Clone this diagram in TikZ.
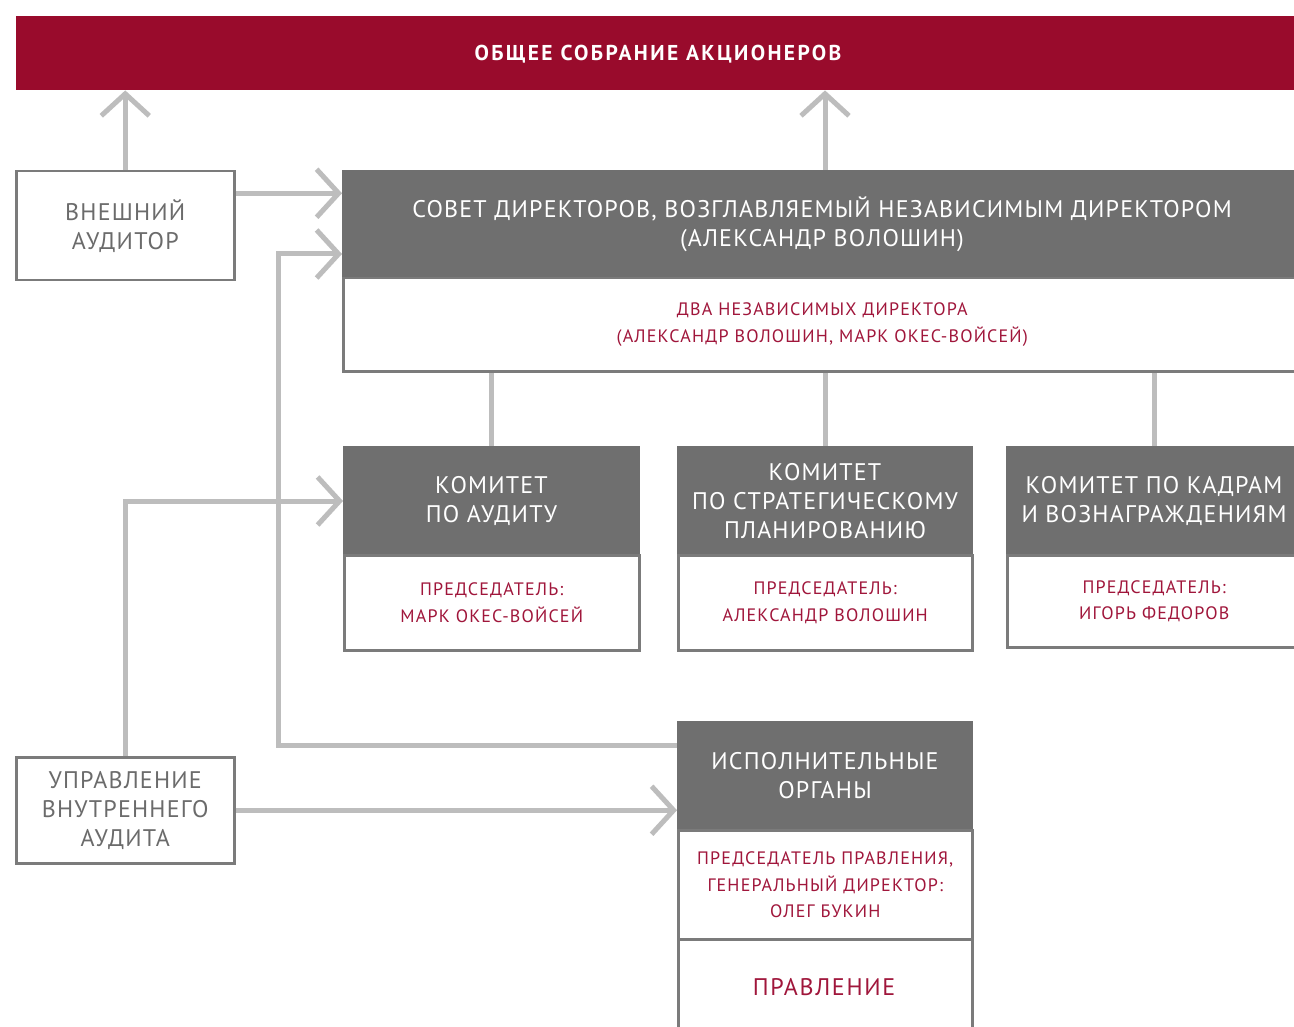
\documentclass[tikz,border=0pt]{standalone}
\usepackage{fontspec}
\setmainfont{PT Sans}[LetterSpace=5]
\usetikzlibrary{arrows.meta}
\definecolor{bannerred}{HTML}{990B2C}
\definecolor{headgray}{HTML}{6F6F6F}
\definecolor{bordergray}{HTML}{7B7B7B}
\definecolor{linegray}{HTML}{BDBDBD}
\definecolor{redtext}{HTML}{A0163B}
\definecolor{graytext}{HTML}{6B6B6B}
\begin{document}
\begin{tikzpicture}[x=1pt,y=-1pt,
  head/.style={draw=headgray, fill=headgray, line width=2pt, text=white, inner sep=0pt,
    anchor=north west, align=center, font=\fontsize{24}{29}\selectfont},
  body/.style={draw=bordergray, fill=white, line width=2.5pt, text=redtext, inner sep=0pt,
    anchor=north west, align=center, font=\fontsize{18}{26.5}\selectfont\addfontfeature{LetterSpace=6.5}},
  side/.style={draw=bordergray, fill=white, line width=2.5pt, text=graytext, inner sep=0pt,
    anchor=north west, align=center, font=\fontsize{24}{29}\selectfont},
  conn/.style={draw=linegray, line width=5pt},
  arr/.style={conn, -{Straight Barb[sharp, length=22pt, width=48pt]}}]
\useasboundingbox (0,0) rectangle (1294,1027);
\clip (0,0) rectangle (1294,1027);
\fill[white] (0,0) rectangle (1294,1027);

% banner
\node[fill=bannerred, inner sep=0pt, anchor=north west, minimum width=1300pt,
  minimum height=74pt] (gm) at (16,16) {};
\node[text=white, font=\fontsize{21.5}{26}\selectfont\bfseries\addfontfeature{LetterSpace=11}] (gmt) at (658,54.5) {ОБЩЕЕ СОБРАНИЕ АКЦИОНЕРОВ};

% external auditor
\node[side, minimum width=218pt, minimum height=109pt] (ea) at (15,170) {ВНЕШНИЙ\\АУДИТОР};

% board
\node[head, minimum width=958pt, minimum height=107pt] (bh) at (342,170)
  {СОВЕТ ДИРЕКТОРОВ, ВОЗГЛАВЛЯЕМЫЙ НЕЗАВИСИМЫМ ДИРЕКТОРОМ\\(АЛЕКСАНДР ВОЛОШИН)};
\node[body, minimum width=958pt, minimum height=93pt] (bb) at (342,277)
  {ДВА НЕЗАВИСИМЫХ ДИРЕКТОРА\\(АЛЕКСАНДР ВОЛОШИН, МАРК ОКЕС-ВОЙСЕЙ)};

% committees
\node[head, minimum width=295pt, minimum height=108pt] (c1h) at (343,446) {КОМИТЕТ\\ПО АУДИТУ};
\node[body, minimum width=295pt, minimum height=95pt] (c1b) at (343,554) {ПРЕДСЕДАТЕЛЬ:\\МАРК ОКЕС-ВОЙСЕЙ};

\node[head, minimum width=294pt, minimum height=108pt] (c2h) at (677,446) {КОМИТЕТ\\ПО СТРАТЕГИЧЕСКОМУ\\ПЛАНИРОВАНИЮ};
\node[body, minimum width=294pt, minimum height=95pt] (c2b) at (677,554) {ПРЕДСЕДАТЕЛЬ:\\АЛЕКСАНДР ВОЛОШИН};

\node[head, minimum width=294pt, minimum height=108pt] (c3h) at (1006,446) {КОМИТЕТ ПО КАДРАМ\\И ВОЗНАГРАЖДЕНИЯМ};
\node[body, minimum width=294pt, minimum height=92pt] (c3b) at (1006,554) {ПРЕДСЕДАТЕЛЬ:\\ИГОРЬ ФЕДОРОВ};

% internal audit
\node[side, minimum width=218pt, minimum height=106pt] (ia) at (15,756) {УПРАВЛЕНИЕ\\ВНУТРЕННЕГО\\АУДИТА};

% executive bodies
\node[head, minimum width=294pt, minimum height=108pt] (eh) at (677,721) {ИСПОЛНИТЕЛЬНЫЕ\\ОРГАНЫ};
\node[body, minimum width=294pt, minimum height=109pt] (eb) at (677,829)
  {ПРЕДСЕДАТЕЛЬ ПРАВЛЕНИЯ,\\ГЕНЕРАЛЬНЫЙ ДИРЕКТОР:\\ОЛЕГ БУКИН};
\node[body, minimum width=294pt, minimum height=100pt] (mb) at (677,938) {};
\node[text=redtext, font=\fontsize{24}{26}\selectfont\addfontfeature{LetterSpace=7}] (mbt) at (824,987) {ПРАВЛЕНИЕ};

% connectors
\draw[arr] (ea.north) -- (ea.north |- gm.south);
\draw[arr] (c2h.north |- bh.north) -- (c2h.north |- gm.south);
\draw[arr] ([yshift=32.5pt]ea.east) -- ([yshift=32.5pt]ea.east -| bh.west);
\coordinate (j1) at (278,745);
\draw[arr] ([yshift=-24pt]eh.north west) -- (j1) |- ([yshift=-29.5pt]bh.west);
\draw[conn] (c1h.north) -- (c1h.north |- bb.south);
\draw[conn] (c2h.north) -- (c2h.north |- bb.south);
\draw[conn] (c3h.north) -- (c3h.north |- bb.south);
\draw[arr] (ia.north) |- (c1h.west);
\draw[arr] (ia.east) -- (ia.east -| eh.west);
\end{tikzpicture}
\end{document}
